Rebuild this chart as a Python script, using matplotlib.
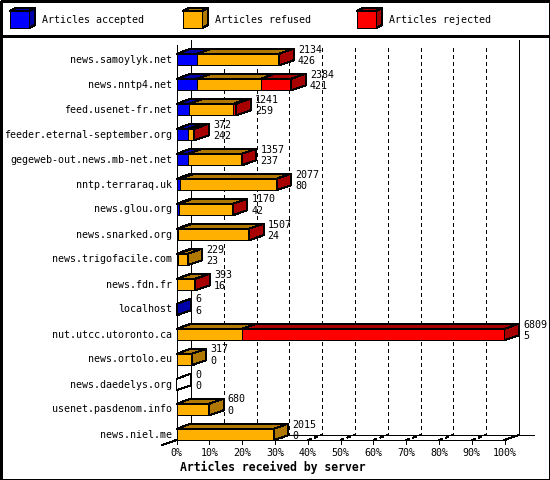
import matplotlib
matplotlib.use('Agg')
import matplotlib.pyplot as plt
from matplotlib.patches import Polygon, Rectangle
from matplotlib.lines import Line2D

# ---------------- data ----------------
servers = ['news.samoylyk.net', 'news.nntp4.net', 'feed.usenet-fr.net',
           'feeder.eternal-september.org', 'gegeweb-out.news.mb-net.net',
           'nntp.terraraq.uk', 'news.glou.org', 'news.snarked.org',
           'news.trigofacile.com', 'news.fdn.fr', 'localhost',
           'nut.utcc.utoronto.ca', 'news.ortolo.eu', 'news.daedelys.org',
           'usenet.pasdenom.info', 'news.niel.me']
accepted = [426, 421, 259, 242, 237, 80, 42, 24, 23, 16, 6, 5, 0, 0, 0, 0]
refused = [1703, 1323, 922, 110, 1116, 1994, 1124, 1473, 206, 372, 0, 1348, 317, 0, 680, 2015]
rejected = [5, 640, 60, 20, 4, 3, 4, 10, 0, 5, 0, 5456, 0, 0, 0, 0]
series_names = ['Articles accepted', 'Articles refused', 'Articles rejected']
tick_values = [0, 10, 20, 30, 40, 50, 60, 70, 80, 90, 100]
tick_labels = ['%d%%' % v for v in tick_values]
x_title = 'Articles received by server'

# ---------------- style ----------------
W, H = 550, 480
FRONT = ['#0000FF', '#FFB000', '#FF0000']
DARK = ['#0000A8', '#B07800', '#A80000']
FONT = 'DejaVu Sans Mono'
FS = 7.2
LW = 0.72  # 1 px

plt.rcParams['font.family'] = FONT
plt.rcParams['lines.antialiased'] = False
plt.rcParams['patch.antialiased'] = False

fig = plt.figure(figsize=(W / 100, H / 100), dpi=100)
fig.patch.set_facecolor('white')

# pixel overlay axes for frame and legend
ov = fig.add_axes([0, 0, 1, 1])
ov.set_xlim(0, W)
ov.set_ylim(H, 0)
ov.axis('off')
ov.add_patch(Rectangle((0.5, 0.5), W - 1, H - 1, fill=False, ec='black', lw=LW * 1.4, zorder=20))
ov.add_line(Line2D([0, W], [35.5, 35.5], color='black', lw=LW * 1.4))
leg_x = [10, 183, 357]
for i, name in enumerate(series_names):
    x0 = leg_x[i]
    y0, y1 = 11, 28
    x1 = x0 + 19
    d, e = 6, 3
    ov.add_patch(Polygon([(x0, y0), (x1, y0), (x1 + d, y0 - e), (x0 + d, y0 - e)],
                         closed=True, fc=DARK[i], ec='black', lw=LW))
    ov.add_patch(Polygon([(x1, y0), (x1 + d, y0 - e), (x1 + d, y1 - e), (x1, y1)],
                         closed=True, fc=DARK[i], ec='black', lw=LW))
    ov.add_patch(Rectangle((x0, y0), x1 - x0, y1 - y0, fc=FRONT[i], ec='black', lw=LW))
    ov.text(x1 + d + 7, 20, name, fontsize=FS, va='center', ha='left')

# main axes: front plane, x in percent of max total, y in row index
left_px, right_px = 176.5, 504.5
top_px, bot_px = 45.0, 440.0
ax = fig.add_axes([left_px / W, (H - bot_px) / H, (right_px - left_px) / W, (bot_px - top_px) / H])
n = len(servers)
row_px = 25.0
y_top = -(59.5 - top_px) / row_px
y_bot = y_top + (bot_px - top_px) / row_px
ax.set_xlim(0, 100)
ax.set_ylim(y_bot, y_top)
ax.axis('off')

px_x = 100.0 / (right_px - left_px)   # data units per px in x
px_y = 1.0 / row_px                    # data units per px in y
DX = 14.5 * px_x
DY = 5.0 * px_y
HH = 5.75 * px_y

totals = [a + b + c for a, b, c in zip(accepted, refused, rejected)]
vmax = max(totals)

def L(xs, ys, **kw):
    kw.setdefault('color', 'black')
    kw.setdefault('lw', LW)
    ax.add_line(Line2D(xs, ys, clip_on=False, **kw))

# walls / floor
back_top = y_top - DY
back_bot = y_bot - DY
L([DX, DX], [back_top, back_bot], zorder=1)
L([100 + DX, 100 + DX], [back_top, back_bot], zorder=1)
L([DX, 100 + 2 * DX], [back_bot, back_bot], zorder=1)
L([0, 0], [y_top, y_bot], zorder=1)
L([0, 100], [y_bot, y_bot], zorder=1)
L([100, 100 + DX], [y_bot, back_bot], zorder=1)
L([-DX, DX], [y_bot + DY, back_bot], zorder=1)
for v in tick_values[1:-1]:
    L([v + DX, v + DX], [back_top + 8 * px_y, back_bot], ls=(0, (4, 4)), zorder=1)
    L([v, v + DX], [y_bot, back_bot], ls=(0, (3, 3)), zorder=1)
for v, lab in zip(tick_values, tick_labels):
    L([v, v], [y_bot, y_bot + 4 * px_y], zorder=1)
    ax.text(v, y_bot + 13 * px_y, lab, fontsize=FS, ha='center', va='center', clip_on=False)
ax.text(3.5 * px_x, y_bot + 27 * px_y, x_title, fontsize=8.3, fontweight='bold',
        ha='left', va='center', clip_on=False)

# bars
for i in range(n):
    yc = i
    yt, yb = yc - HH, yc + HH
    vals = [accepted[i], refused[i], rejected[i]]
    x0 = 0.0
    last = None
    for k, v in enumerate(vals):
        if v <= 0:
            continue
        x1 = x0 + v / vmax * 100
        ax.add_patch(Polygon([(x0, yt), (x1, yt), (x1 + DX, yt - DY), (x0 + DX, yt - DY)],
                             closed=True, fc=DARK[k], ec='black', lw=LW, clip_on=False, zorder=3))
        ax.add_patch(Rectangle((x0, yt), x1 - x0, yb - yt, fc=FRONT[k], ec='black', lw=LW,
                               clip_on=False, zorder=3))
        last = k
        x0 = x1
    side_fc = DARK[last] if last is not None else 'white'
    if last is None:
        ax.add_patch(Polygon([(0, yt), (DX, yt - DY), (DX, yt - DY), (0, yt)],
                             closed=True, fc='white', ec='black', lw=LW, clip_on=False, zorder=3))
    ax.add_patch(Polygon([(x0, yt), (x0 + DX, yt - DY), (x0 + DX, yb - DY), (x0, yb)],
                         closed=True, fc=side_fc, ec='black', lw=LW, clip_on=False, zorder=3))
    tx = x0 + DX + 4 * px_x
    ax.text(tx, yc - 10 * px_y, str(totals[i]), fontsize=FS, ha='left', va='center', clip_on=False, zorder=5)
    ax.text(tx, yc + 1.5 * px_y, str(accepted[i]), fontsize=FS, ha='left', va='center', clip_on=False, zorder=5)
    ax.text(-4.5 * px_x, yc, servers[i], fontsize=FS, ha='right', va='center', clip_on=False, zorder=5)

fig.savefig('out.png', dpi=100, facecolor='white')
